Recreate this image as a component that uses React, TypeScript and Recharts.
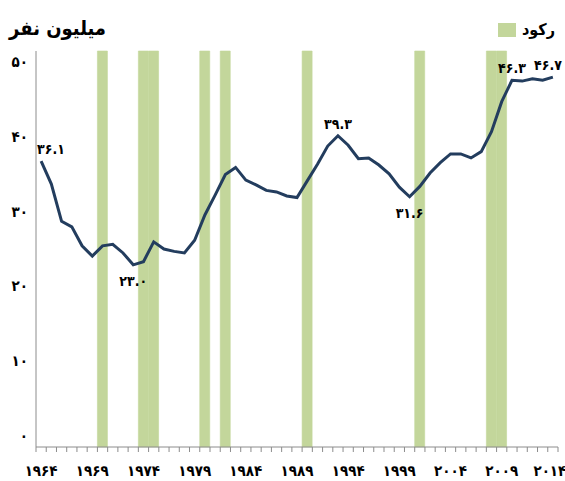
import React from "react";
import { Bar, ComposedChart, LabelList, Line, XAxis, YAxis } from "recharts";

// years on the category axis
const years = [
  1964, 1965, 1966, 1967, 1968, 1969, 1970, 1971, 1972, 1973, 1974, 1975, 1976,
  1977, 1978, 1979, 1980, 1981, 1982, 1983, 1984, 1985, 1986, 1987, 1988, 1989,
  1990, 1991, 1992, 1993, 1994, 1995, 1996, 1997, 1998, 1999, 2000, 2001, 2002,
  2003, 2004, 2005, 2006, 2007, 2008, 2009, 2010, 2011, 2012, 2013, 2014,
];

// people in poverty, millions
const poverty = [
  36.1, 33.2, 28.5, 27.8, 25.4, 24.1, 25.4, 25.6, 24.5, 23.0, 23.4, 25.9, 25.0,
  24.7, 24.5, 26.1, 29.3, 31.8, 34.4, 35.3, 33.7, 33.1, 32.4, 32.2, 31.7, 31.5,
  33.6, 35.7, 38.0, 39.3, 38.1, 36.4, 36.5, 35.6, 34.5, 32.8, 31.6, 32.9, 34.6,
  35.9, 37.0, 37.0, 36.5, 37.3, 39.8, 43.6, 46.3, 46.2, 46.5, 46.3, 46.7,
];

// recession years (shaded)
const recessionYears = [1970, 1974, 1975, 1980, 1982, 1990, 2001, 2008, 2009];

const yTicks = [0, 10, 20, 30, 40, 50];

// which points carry a value label, and on which side
const annotated: Record<number, "top" | "bottom"> = {
  1964: "top",
  1973: "bottom",
  1993: "top",
  2000: "bottom",
  2010: "top",
  2014: "top",
};

const FONT = "'DejaVu Sans Condensed', 'DejaVu Sans', sans-serif";
const LINE = "#233d5e";
const GREEN = "#c3d69b";
const AXIS = "#8c8c8c";

const fa = (s: string | number) =>
  String(s).replace(/\d/g, (d) => "۰۱۲۳۴۵۶۷۸۹"[Number(d)]);

const data = years.map((year, i) => ({
  year,
  poor: poverty[i],
  rec: recessionYears.includes(year) ? 50 : null,
}));

const XTick = (props: any) => {
  const { x, y, payload, index } = props;
  const half = payload.offset || 5.12;
  const yr = payload.value as number;
  const last = index === years.length - 1;
  return (
    <g>
      <line x1={x - half} x2={x - half} y1={y} y2={y + 5} stroke={AXIS} />
      {last && <line x1={x + half} x2={x + half} y1={y} y2={y + 5} stroke={AXIS} />}
      {(yr - 1964) % 5 === 0 && (
        <text
          x={last ? x - 3 : x}
          y={y + 24}
          textAnchor="middle"
          dominantBaseline="central"
          fontFamily={FONT}
          fontWeight="bold"
          fontSize={15}
          fill="#000"
        >
          {fa(yr)}
        </text>
      )}
    </g>
  );
};

const YTick = (props: any) => {
  const { x, y, payload } = props;
  // labels in the original sit slightly closer together than the grid
  const ty = y + (249.5 - y) * 0.055;
  return (
    <text
      x={x}
      y={ty}
      textAnchor="end"
      dominantBaseline="central"
      fontFamily={FONT}
      fontWeight="bold"
      fontSize={15}
      fill="#000"
    >
      {fa(payload.value)}
    </text>
  );
};

const PointLabel = (props: any) => {
  const { x, y, value, index } = props;
  const side = annotated[years[index]];
  if (!side) return null;
  const first = index === 0;
  const last = index === years.length - 1;
  return (
    <text
      x={first ? x - 4 : last ? x + 9 : x}
      y={side === "top" ? y - 12 : y + 16}
      textAnchor={first ? "start" : last ? "end" : "middle"}
      dominantBaseline="central"
      fontFamily={FONT}
      fontWeight="bold"
      fontSize={14}
      fill="#000"
    >
      {fa(Number(value).toFixed(1))}
    </text>
  );
};

export default function App() {
  return (
    <div style={{ position: "absolute", left: 0, top: 0, width: 565, height: 481, background: "#fff" }}>
      <div
        dir="rtl"
        style={{
          position: "absolute",
          left: 9,
          top: 16,
          fontFamily: FONT,
          fontWeight: "bold",
          fontSize: 20,
          color: "#000",
          whiteSpace: "nowrap",
        }}
      >
        میلیون نفر
      </div>
      <div
        style={{
          position: "absolute",
          right: 10,
          top: 20,
          display: "flex",
          alignItems: "center",
          gap: 6,
        }}
      >
        <span style={{ width: 18, height: 14, background: GREEN, display: "inline-block" }} />
        <span dir="rtl" style={{ fontFamily: FONT, fontWeight: "bold", fontSize: 16, color: "#000" }}>
          رکود
        </span>
      </div>
      <ComposedChart
        width={565}
        height={481}
        data={data}
        margin={{ top: 51, right: 7, left: 0, bottom: 0 }}
        barCategoryGap={0}
      >
        <XAxis
          dataKey="year"
          interval={0}
          height={34}
          tickSize={0}
          tickMargin={0}
          tickLine={false}
          axisLine={{ stroke: AXIS }}
          tick={<XTick />}
        />
        <YAxis
          domain={[0, 50]}
          ticks={yTicks}
          width={36}
          tickSize={0}
          tickMargin={8}
          tickLine={false}
          axisLine={{ stroke: AXIS }}
          tick={<YTick />}
        />
        <Bar
          dataKey="rec"
          name="رکود"
          fill={GREEN}
          stroke={GREEN}
          strokeWidth={0.6}
          isAnimationActive={false}
        />
        <Line
          dataKey="poor"
          type="linear"
          stroke={LINE}
          strokeWidth={3}
          dot={false}
          legendType="none"
          isAnimationActive={false}
        >
          <LabelList dataKey="poor" content={<PointLabel />} />
        </Line>
      </ComposedChart>
    </div>
  );
}
